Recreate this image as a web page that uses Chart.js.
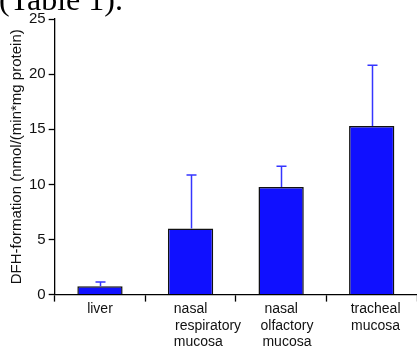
<!DOCTYPE html>
<html>
<head>
<meta charset="utf-8">
<script src="https://cdn.jsdelivr.net/npm/chart.js@4"></script>
<style>
    html, body { margin: 0; padding: 0; background: #fff; overflow: hidden; }
    #wrap { position: relative; width: 417px; height: 350px; }
    #caption {
        position: absolute; left: -1px; top: -17px;
        font-family: 'Liberation Serif', 'Times New Roman', serif;
        font-size: 32px; line-height: 32px; color: #000; white-space: nowrap;
    }
</style>
</head>
<body>
<div id="wrap">
    <canvas id="chart" width="417" height="350"></canvas>
    <div id="caption">(Table 1).</div>
</div>
<script>
// Data
const categories = [
    ['liver'],
    ['nasal', '         respiratory', '    mucosa'],
    ['nasal', '   olfactory', '   mucosa'],
    ['  tracheal', '  mucosa']
];
const means = [0.75, 6.0, 9.75, 15.3];
const errorTops = [1.15, 10.85, 11.65, 20.8];
const yTicks = [0, 5, 10, 15, 20, 25];

const axisFont = { family: "'Liberation Sans', Arial, sans-serif" };

// Draw upper error bars from the bar top
const errorBarPlugin = {
    id: 'errorBars',
    afterDatasetsDraw(chart) {
        const ctx = chart.ctx;
        const yScale = chart.scales.y;
        const meta = chart.getDatasetMeta(0);
        ctx.save();
        ctx.strokeStyle = '#3535ff';
        ctx.lineWidth = 1.5;
        meta.data.forEach((bar, i) => {
            const x = Math.round(bar.x) + 0.5;
            const yTop = yScale.getPixelForValue(errorTops[i]);
            ctx.beginPath();
            ctx.moveTo(x, bar.y);
            ctx.lineTo(x, yTop);
            ctx.moveTo(x - 5, yTop);
            ctx.lineTo(x + 5, yTop);
            ctx.stroke();
        });
        ctx.restore();
    }
};

new Chart(document.getElementById('chart').getContext('2d'), {
    type: 'bar',
    data: {
        labels: categories,
        datasets: [{
            data: means,
            backgroundColor: '#1010ff',
            borderColor: '#111',
            borderWidth: 1.5,
            barPercentage: 0.5,
            categoryPercentage: 1.0
        }]
    },
    options: {
        responsive: false,
        animation: false,
        events: [],
        layout: { padding: { top: 19, left: 8, right: 0, bottom: 0 } },
        plugins: {
            legend: { display: false },
            tooltip: { enabled: false }
        },
        scales: {
            x: {
                offset: true,
                grid: {
                    offset: true,
                    drawOnChartArea: false,
                    tickLength: 7,
                    tickColor: '#000',
                    tickWidth: 1.3
                },
                border: { color: '#000', width: 1.3 },
                ticks: {
                    color: '#111',
                    padding: -1,
                    maxRotation: 0,
                    autoSkip: false,
                    font: { ...axisFont, size: 14, lineHeight: 1.2 }
                }
            },
            y: {
                min: 0,
                max: 25,
                afterBuildTicks(scale) {
                    scale.ticks = yTicks.map(v => ({ value: v }));
                },
                grid: {
                    drawOnChartArea: false,
                    tickLength: 6,
                    tickColor: '#000',
                    tickWidth: 1.3
                },
                border: { color: '#000', width: 1.3 },
                ticks: {
                    color: '#111',
                    padding: 3,
                    font: { ...axisFont, size: 15 }
                },
                title: {
                    display: true,
                    text: 'DFH-formation (nmol/(min*mg protein)',
                    color: '#111',
                    padding: 0,
                    font: { ...axisFont, size: 15, lineHeight: 1.2 }
                }
            }
        }
    },
    plugins: [errorBarPlugin]
});
</script>
</body>
</html>
